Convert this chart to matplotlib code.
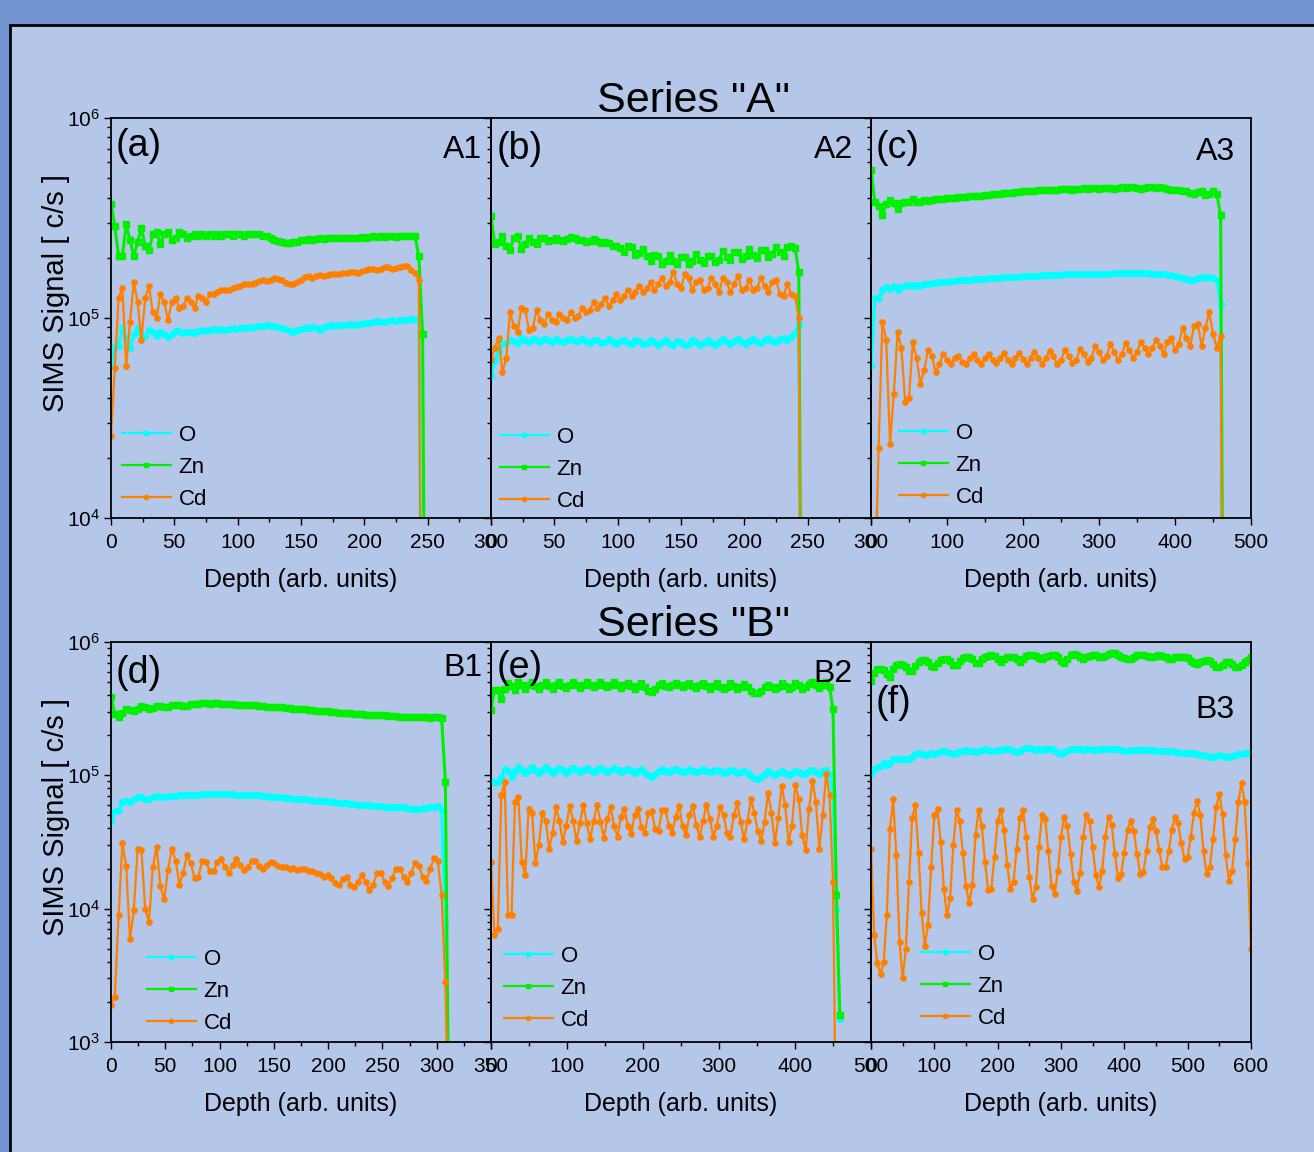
import numpy as np
import matplotlib
matplotlib.use("Agg")
import matplotlib.pyplot as plt
from matplotlib.patches import Rectangle
from matplotlib.ticker import LogLocator, MultipleLocator, NullFormatter


plt.rcParams["font.family"] = ["Liberation Sans", "DejaVu Sans"]
plt.rcParams["mathtext.fontset"] = "custom"
plt.rcParams["mathtext.rm"] = "Liberation Sans"
plt.rcParams["mathtext.it"] = "Liberation Sans:italic"

# SIMS depth profiles, values are log10 of the signal in c/s
# each series is sampled on a regular depth grid (step in arb. units)

A1_STEP = 3.0
A1_O = [
	4.76, 4.86, 4.86, 4.95, 4.90, 4.85, 4.92, 4.95, 4.89, 4.91,
	4.94, 4.93, 4.91, 4.93, 4.92, 4.905, 4.92, 4.935, 4.935, 4.925,
	4.93, 4.93, 4.925, 4.935, 4.94, 4.935, 4.94, 4.945, 4.94, 4.945,
	4.94, 4.945, 4.95, 4.945, 4.95, 4.95, 4.955, 4.95, 4.955, 4.96,
	4.96, 4.965, 4.96, 4.96, 4.955, 4.95, 4.945, 4.935, 4.93, 4.94,
	4.945, 4.95, 4.95, 4.955, 4.95, 4.94, 4.955, 4.96, 4.965, 4.96,
	4.965, 4.965, 4.965, 4.97, 4.965, 4.97, 4.97, 4.975, 4.975, 4.98,
	4.985, 4.98, 4.98, 4.985, 4.99, 4.985, 4.99, 4.99, 4.99, 4.995,
	4.995, 4.99, 2.0, 2.0,
]
A1_ZN = [
	5.57, 5.46, 5.31, 5.31, 5.47, 5.39, 5.31, 5.38, 5.45, 5.36,
	5.34, 5.42, 5.43, 5.37, 5.42, 5.43, 5.39, 5.40, 5.43, 5.42,
	5.40, 5.41, 5.42, 5.41, 5.42, 5.41, 5.42, 5.41, 5.42, 5.41,
	5.42, 5.42, 5.41, 5.42, 5.42, 5.41, 5.42, 5.42, 5.42, 5.42,
	5.41, 5.41, 5.40, 5.39, 5.385, 5.38, 5.375, 5.375, 5.38, 5.38,
	5.39, 5.39, 5.395, 5.39, 5.395, 5.40, 5.395, 5.40, 5.40, 5.40,
	5.40, 5.40, 5.40, 5.40, 5.40, 5.40, 5.405, 5.40, 5.405, 5.41,
	5.405, 5.41, 5.405, 5.41, 5.41, 5.405, 5.41, 5.41, 5.41, 5.41,
	5.41, 5.31, 4.92, 2.0,
]
A1_CD = [
	4.41, 4.75, 5.10, 5.15, 4.76, 4.98, 5.18, 5.08, 4.89, 5.10,
	5.16, 5.03, 5.00, 5.12, 5.08, 4.99, 5.08, 5.10, 5.05, 5.06,
	5.10, 5.08, 5.05, 5.11, 5.10, 5.08, 5.12, 5.12, 5.13, 5.14,
	5.14, 5.14, 5.15, 5.155, 5.16, 5.17, 5.17, 5.17, 5.175, 5.185,
	5.19, 5.185, 5.19, 5.20, 5.195, 5.19, 5.175, 5.17, 5.17, 5.18,
	5.19, 5.205, 5.21, 5.20, 5.21, 5.215, 5.21, 5.215, 5.22, 5.22,
	5.22, 5.225, 5.225, 5.23, 5.23, 5.225, 5.235, 5.24, 5.245, 5.245,
	5.24, 5.245, 5.255, 5.255, 5.245, 5.25, 5.255, 5.26, 5.26, 5.24,
	5.225, 5.19, 2.0, 2.0,
]

A2_STEP = 3.0
A2_O = [
	4.71, 4.79, 4.83, 4.87, 4.875, 4.89, 4.885, 4.875, 4.90, 4.89,
	4.88, 4.895, 4.89, 4.88, 4.895, 4.89, 4.88, 4.895, 4.885, 4.88,
	4.89, 4.895, 4.885, 4.885, 4.895, 4.885, 4.875, 4.89, 4.89, 4.875,
	4.88, 4.895, 4.88, 4.87, 4.885, 4.89, 4.875, 4.87, 4.89, 4.885,
	4.87, 4.875, 4.89, 4.88, 4.865, 4.88, 4.89, 4.87, 4.865, 4.885,
	4.88, 4.865, 4.87, 4.89, 4.88, 4.865, 4.875, 4.89, 4.875, 4.865,
	4.88, 4.895, 4.88, 4.87, 4.885, 4.895, 4.88, 4.87, 4.885, 4.895,
	4.88, 4.875, 4.89, 4.90, 4.885, 4.88, 4.895, 4.90, 4.89, 4.905,
	4.925, 4.97, 2.0,
]
A2_ZN = [
	5.51, 5.37, 5.38, 5.41, 5.36, 5.34, 5.40, 5.41, 5.345, 5.37,
	5.40, 5.38, 5.37, 5.40, 5.40, 5.385, 5.39, 5.40, 5.39, 5.385,
	5.395, 5.405, 5.40, 5.39, 5.39, 5.38, 5.385, 5.395, 5.385, 5.375,
	5.38, 5.375, 5.36, 5.36, 5.35, 5.328, 5.36, 5.356, 5.313, 5.325,
	5.345, 5.31, 5.283, 5.316, 5.311, 5.268, 5.285, 5.315, 5.285, 5.268,
	5.306, 5.306, 5.268, 5.285, 5.32, 5.29, 5.273, 5.31, 5.31, 5.278,
	5.29, 5.335, 5.307, 5.29, 5.33, 5.332, 5.295, 5.31, 5.345, 5.315,
	5.30, 5.34, 5.342, 5.306, 5.32, 5.355, 5.328, 5.31, 5.355, 5.36,
	5.35, 5.23, 2.0,
]
A2_CD = [
	4.79, 4.85, 4.90, 4.73, 4.80, 5.03, 4.96, 4.93, 5.05, 5.04,
	4.94, 4.95, 5.04, 4.99, 4.97, 5.02, 4.99, 4.98, 5.02, 5.00,
	4.99, 5.03, 5.00, 5.01, 5.05, 5.03, 5.04, 5.08, 5.05, 5.07,
	5.10, 5.06, 5.09, 5.12, 5.09, 5.11, 5.14, 5.11, 5.13, 5.16,
	5.13, 5.15, 5.18, 5.14, 5.17, 5.20, 5.16, 5.18, 5.23, 5.17,
	5.15, 5.22, 5.20, 5.14, 5.18, 5.19, 5.14, 5.15, 5.20, 5.17,
	5.13, 5.20, 5.18, 5.13, 5.17, 5.21, 5.14, 5.15, 5.19, 5.14,
	5.15, 5.20, 5.16, 5.13, 5.18, 5.19, 5.12, 5.11, 5.17, 5.12,
	5.11, 5.00, 2.0,
]

A3_STEP = 5.0
A3_O = [
	4.76, 5.10, 5.10, 5.14, 5.155, 5.145, 5.16, 5.14, 5.155, 5.16,
	5.165, 5.16, 5.165, 5.16, 5.17, 5.17, 5.175, 5.175, 5.18, 5.18,
	5.18, 5.185, 5.185, 5.19, 5.19, 5.19, 5.19, 5.195, 5.195, 5.195,
	5.195, 5.20, 5.20, 5.20, 5.20, 5.205, 5.205, 5.205, 5.205, 5.205,
	5.21, 5.21, 5.21, 5.21, 5.21, 5.215, 5.215, 5.215, 5.215, 5.215,
	5.215, 5.22, 5.22, 5.22, 5.22, 5.22, 5.22, 5.22, 5.22, 5.22,
	5.22, 5.22, 5.22, 5.22, 5.225, 5.225, 5.225, 5.225, 5.225, 5.225,
	5.225, 5.225, 5.225, 5.225, 5.22, 5.22, 5.22, 5.22, 5.215, 5.215,
	5.21, 5.205, 5.20, 5.195, 5.19, 5.19, 5.20, 5.205, 5.20, 5.205,
	5.20, 5.19, 5.07, 2.0,
]
A3_ZN = [
	5.74, 5.58, 5.56, 5.515, 5.57, 5.59, 5.575, 5.545, 5.575, 5.58,
	5.58, 5.595, 5.58, 5.58, 5.59, 5.585, 5.59, 5.595, 5.595, 5.595,
	5.60, 5.60, 5.60, 5.605, 5.605, 5.605, 5.61, 5.61, 5.61, 5.61,
	5.615, 5.615, 5.62, 5.62, 5.62, 5.625, 5.625, 5.625, 5.63, 5.63,
	5.635, 5.635, 5.635, 5.635, 5.64, 5.64, 5.64, 5.64, 5.64, 5.64,
	5.645, 5.645, 5.645, 5.64, 5.645, 5.645, 5.65, 5.645, 5.65, 5.65,
	5.645, 5.65, 5.65, 5.65, 5.645, 5.65, 5.655, 5.65, 5.655, 5.655,
	5.65, 5.645, 5.65, 5.655, 5.655, 5.65, 5.655, 5.65, 5.645, 5.64,
	5.64, 5.64, 5.635, 5.635, 5.625, 5.62, 5.63, 5.635, 5.615, 5.62,
	5.635, 5.62, 5.515, 2.0,
]
A3_CD = [
	3.0, 3.6, 4.35, 4.98, 4.89, 4.37, 4.62, 4.93, 4.85, 4.58,
	4.60, 4.88, 4.80, 4.67, 4.74, 4.84, 4.81, 4.73, 4.77, 4.82,
	4.79, 4.77, 4.80, 4.81, 4.78, 4.77, 4.80, 4.82, 4.79, 4.77,
	4.80, 4.82, 4.79, 4.775, 4.80, 4.825, 4.79, 4.77, 4.80, 4.825,
	4.795, 4.77, 4.80, 4.83, 4.80, 4.77, 4.80, 4.835, 4.81, 4.77,
	4.79, 4.84, 4.81, 4.775, 4.79, 4.845, 4.82, 4.78, 4.80, 4.86,
	4.83, 4.79, 4.81, 4.87, 4.83, 4.79, 4.82, 4.875, 4.84, 4.80,
	4.83, 4.88, 4.85, 4.82, 4.85, 4.89, 4.86, 4.82, 4.88, 4.90,
	4.84, 4.87, 4.95, 4.90, 4.86, 4.96, 4.97, 4.86, 4.95, 5.03,
	4.92, 4.85, 4.91, 2.0,
]

B1_STEP = 3.5
B1_O = [
	4.66, 4.73, 4.74, 4.80, 4.81, 4.80, 4.82, 4.835, 4.84, 4.825,
	4.82, 4.84, 4.845, 4.835, 4.84, 4.845, 4.845, 4.845, 4.85, 4.85,
	4.85, 4.855, 4.855, 4.855, 4.86, 4.86, 4.86, 4.86, 4.86, 4.86,
	4.86, 4.86, 4.86, 4.855, 4.855, 4.855, 4.85, 4.85, 4.85, 4.85,
	4.845, 4.845, 4.84, 4.84, 4.84, 4.835, 4.83, 4.83, 4.825, 4.825,
	4.82, 4.82, 4.815, 4.815, 4.81, 4.81, 4.805, 4.805, 4.80, 4.80,
	4.795, 4.795, 4.79, 4.785, 4.785, 4.78, 4.78, 4.775, 4.775, 4.77,
	4.77, 4.77, 4.765, 4.765, 4.765, 4.76, 4.76, 4.76, 4.755, 4.75,
	4.745, 4.75, 4.755, 4.755, 4.76, 4.765, 4.77, 4.74, 3.9, 2.0,
]
B1_ZN = [
	5.59, 5.46, 5.44, 5.47, 5.50, 5.49, 5.48, 5.50, 5.52, 5.51,
	5.495, 5.505, 5.52, 5.52, 5.51, 5.51, 5.525, 5.53, 5.53, 5.52,
	5.52, 5.535, 5.535, 5.535, 5.54, 5.54, 5.535, 5.54, 5.54, 5.535,
	5.535, 5.535, 5.535, 5.53, 5.53, 5.53, 5.525, 5.525, 5.525, 5.52,
	5.52, 5.515, 5.515, 5.515, 5.51, 5.51, 5.505, 5.505, 5.50, 5.50,
	5.495, 5.495, 5.49, 5.49, 5.485, 5.485, 5.48, 5.48, 5.475, 5.475,
	5.47, 5.47, 5.465, 5.465, 5.46, 5.46, 5.46, 5.455, 5.455, 5.455,
	5.45, 5.45, 5.45, 5.445, 5.445, 5.445, 5.44, 5.44, 5.44, 5.435,
	5.44, 5.435, 5.435, 5.435, 5.43, 5.435, 5.44, 5.43, 4.95, 2.0,
]
B1_CD = [
	3.28, 3.34, 3.95, 4.49, 4.32, 3.77, 3.99, 4.45, 4.44, 4.00,
	3.90, 4.31, 4.465, 4.17, 4.07, 4.29, 4.45, 4.36, 4.18, 4.27,
	4.40, 4.34, 4.23, 4.24, 4.36, 4.35, 4.28, 4.28, 4.35, 4.37,
	4.31, 4.265, 4.33, 4.37, 4.33, 4.29, 4.31, 4.36, 4.36, 4.32,
	4.30, 4.33, 4.35, 4.34, 4.32, 4.31, 4.315, 4.30, 4.305, 4.29,
	4.30, 4.295, 4.28, 4.285, 4.27, 4.26, 4.24, 4.25, 4.23, 4.19,
	4.18, 4.22, 4.24, 4.18, 4.16, 4.20, 4.25, 4.20, 4.14, 4.18,
	4.27, 4.27, 4.20, 4.17, 4.23, 4.30, 4.30, 4.24, 4.20, 4.27,
	4.34, 4.32, 4.24, 4.21, 4.30, 4.38, 4.36, 4.10, 3.45, 2.0,
]

B2_STEP = 4.5
B2_O = [
	4.96, 4.95, 4.95, 4.99, 5.05, 5.03, 4.99, 5.03, 5.06, 5.04,
	5.02, 5.04, 5.06, 5.04, 5.02, 5.04, 5.06, 5.04, 5.02, 5.04,
	5.055, 5.04, 5.02, 5.04, 5.055, 5.04, 5.025, 5.04, 5.055, 5.04,
	5.025, 5.04, 5.055, 5.04, 5.025, 5.04, 5.055, 5.04, 5.025, 5.04,
	5.05, 5.035, 5.02, 5.03, 5.045, 5.02, 5.00, 4.99, 5.01, 5.035,
	5.05, 5.035, 5.025, 5.04, 5.05, 5.035, 5.025, 5.035, 5.045, 5.035,
	5.025, 5.035, 5.045, 5.035, 5.025, 5.03, 5.04, 5.03, 5.02, 5.025,
	5.04, 5.03, 5.015, 5.025, 5.035, 5.015, 4.995, 4.98, 4.975, 4.99,
	5.01, 5.03, 5.02, 5.005, 5.02, 5.035, 5.02, 5.00, 5.015, 5.035,
	5.025, 5.01, 5.02, 5.035, 5.04, 5.025, 5.01, 5.03, 5.04, 5.00,
	4.85, 4.00, 3.17,
]
B2_ZN = [
	5.49, 5.64, 5.64, 5.57, 5.65, 5.69, 5.67, 5.64, 5.70, 5.68,
	5.65, 5.68, 5.70, 5.67, 5.65, 5.68, 5.70, 5.67, 5.65, 5.68,
	5.70, 5.67, 5.655, 5.68, 5.70, 5.675, 5.655, 5.68, 5.70, 5.675,
	5.66, 5.68, 5.70, 5.675, 5.66, 5.68, 5.70, 5.675, 5.655, 5.675,
	5.695, 5.67, 5.65, 5.67, 5.69, 5.66, 5.635, 5.625, 5.65, 5.675,
	5.69, 5.67, 5.66, 5.68, 5.695, 5.675, 5.66, 5.68, 5.695, 5.67,
	5.655, 5.675, 5.695, 5.67, 5.65, 5.67, 5.69, 5.665, 5.645, 5.665,
	5.69, 5.67, 5.65, 5.665, 5.685, 5.66, 5.635, 5.62, 5.615, 5.635,
	5.66, 5.68, 5.665, 5.645, 5.665, 5.69, 5.67, 5.645, 5.66, 5.69,
	5.675, 5.65, 5.66, 5.685, 5.70, 5.675, 5.655, 5.68, 5.70, 5.66,
	5.50, 4.10, 3.20,
]
B2_CD = [
	4.35, 3.80, 3.85, 4.85, 4.95, 3.95, 3.95, 4.80, 4.84, 4.35,
	4.25, 4.75, 4.72, 4.34, 4.48, 4.72, 4.66, 4.45, 4.57, 4.76,
	4.66, 4.50, 4.62, 4.77, 4.66, 4.51, 4.64, 4.78, 4.64, 4.52,
	4.66, 4.78, 4.65, 4.53, 4.675, 4.76, 4.62, 4.54, 4.69, 4.75,
	4.62, 4.56, 4.70, 4.75, 4.61, 4.57, 4.72, 4.73, 4.60, 4.58,
	4.74, 4.74, 4.62, 4.57, 4.69, 4.77, 4.62, 4.55, 4.70, 4.77,
	4.63, 4.54, 4.66, 4.78, 4.67, 4.54, 4.62, 4.76, 4.70, 4.57,
	4.54, 4.70, 4.79, 4.65, 4.52, 4.66, 4.82, 4.72, 4.58, 4.51,
	4.65, 4.87, 4.72, 4.49, 4.68, 4.92, 4.78, 4.50, 4.62, 4.93,
	4.82, 4.55, 4.44, 4.75, 4.96, 4.80, 4.45, 4.70, 5.01, 4.85,
	4.20, 2.0,
]

B3_STEP = 5.0
B3_O = [
	5.01, 5.05, 5.06, 5.07, 5.09, 5.08, 5.09, 5.12, 5.125, 5.12,
	5.125, 5.12, 5.125, 5.14, 5.16, 5.165, 5.16, 5.155, 5.16, 5.165,
	5.16, 5.17, 5.18, 5.18, 5.175, 5.165, 5.16, 5.17, 5.18, 5.185,
	5.19, 5.185, 5.18, 5.175, 5.18, 5.19, 5.195, 5.19, 5.185, 5.185,
	5.19, 5.19, 5.195, 5.20, 5.195, 5.185, 5.175, 5.185, 5.20, 5.205,
	5.205, 5.195, 5.19, 5.195, 5.19, 5.195, 5.20, 5.195, 5.18, 5.165,
	5.16, 5.175, 5.185, 5.195, 5.20, 5.20, 5.195, 5.19, 5.195, 5.195,
	5.19, 5.19, 5.195, 5.20, 5.20, 5.20, 5.20, 5.20, 5.195, 5.19,
	5.185, 5.185, 5.19, 5.19, 5.19, 5.19, 5.19, 5.19, 5.19, 5.19,
	5.185, 5.185, 5.185, 5.18, 5.18, 5.18, 5.175, 5.175, 5.17, 5.17,
	5.17, 5.165, 5.165, 5.16, 5.155, 5.15, 5.145, 5.14, 5.14, 5.145,
	5.15, 5.145, 5.135, 5.135, 5.145, 5.155, 5.16, 5.16, 5.165, 5.17,
	5.175,
]
B3_ZN = [
	5.71, 5.77, 5.795, 5.80, 5.79, 5.76, 5.74, 5.80, 5.83, 5.835,
	5.83, 5.81, 5.785, 5.78, 5.82, 5.85, 5.865, 5.865, 5.85, 5.82,
	5.81, 5.84, 5.865, 5.875, 5.875, 5.86, 5.825, 5.825, 5.86, 5.88,
	5.885, 5.885, 5.87, 5.845, 5.845, 5.87, 5.89, 5.895, 5.90, 5.895,
	5.87, 5.85, 5.87, 5.885, 5.89, 5.89, 5.875, 5.85, 5.87, 5.895,
	5.905, 5.905, 5.895, 5.88, 5.875, 5.885, 5.895, 5.90, 5.90, 5.885,
	5.855, 5.84, 5.87, 5.90, 5.91, 5.905, 5.89, 5.875, 5.885, 5.895,
	5.90, 5.90, 5.89, 5.885, 5.895, 5.91, 5.915, 5.915, 5.905, 5.89,
	5.88, 5.875, 5.875, 5.885, 5.90, 5.905, 5.90, 5.895, 5.89, 5.89,
	5.895, 5.90, 5.895, 5.885, 5.875, 5.875, 5.885, 5.89, 5.89, 5.885,
	5.88, 5.86, 5.84, 5.835, 5.85, 5.86, 5.865, 5.855, 5.835, 5.81,
	5.81, 5.83, 5.85, 5.85, 5.835, 5.815, 5.81, 5.83, 5.85, 5.865,
	5.885,
]
B3_CD = [
	4.45, 3.80, 3.59, 3.51, 3.60, 3.95, 4.60, 4.82, 4.40, 3.75,
	3.48, 3.70, 4.20, 4.68, 4.78, 4.42, 3.97, 3.72, 3.88, 4.31,
	4.70, 4.75, 4.50, 4.15, 3.95, 4.08, 4.48, 4.74, 4.66, 4.42,
	4.17, 4.04, 4.18, 4.55, 4.74, 4.62, 4.35, 4.14, 4.15, 4.39,
	4.66, 4.74, 4.59, 4.33, 4.15, 4.20, 4.445, 4.68, 4.74, 4.54,
	4.24, 4.07, 4.16, 4.46, 4.70, 4.675, 4.43, 4.17, 4.11, 4.28,
	4.54, 4.69, 4.62, 4.41, 4.20, 4.13, 4.27, 4.54, 4.70, 4.655,
	4.46, 4.25, 4.16, 4.28, 4.54, 4.69, 4.63, 4.41, 4.23, 4.26,
	4.42, 4.59, 4.66, 4.58, 4.41, 4.26, 4.275, 4.43, 4.61, 4.67,
	4.58, 4.44, 4.31, 4.31, 4.43, 4.59, 4.69, 4.64, 4.49, 4.37,
	4.39, 4.54, 4.72, 4.81, 4.70, 4.43, 4.26, 4.31, 4.52, 4.76,
	4.86, 4.71, 4.40, 4.21, 4.28, 4.52, 4.80, 4.94, 4.80, 4.34,
	3.70,
]

SPECIES = ["O", "Zn", "Cd"]
ROW_TITLES = ['Series "A"', 'Series "B"']
X_LABEL = "Depth (arb. units)"
Y_LABEL = "SIMS Signal [ c/s ]"

PANELS = [
	{"row": 0, "col": 0, "letter": "(a)", "sample": "A1", "step": A1_STEP,
	 "series": [A1_O, A1_ZN, A1_CD], "xmax": 300, "major": 50, "minor": 25},
	{"row": 0, "col": 1, "letter": "(b)", "sample": "A2", "step": A2_STEP,
	 "series": [A2_O, A2_ZN, A2_CD], "xmax": 300, "major": 50, "minor": 25},
	{"row": 0, "col": 2, "letter": "(c)", "sample": "A3", "step": A3_STEP,
	 "series": [A3_O, A3_ZN, A3_CD], "xmax": 500, "major": 100, "minor": 50},
	{"row": 1, "col": 0, "letter": "(d)", "sample": "B1", "step": B1_STEP,
	 "series": [B1_O, B1_ZN, B1_CD], "xmax": 350, "major": 50, "minor": 25},
	{"row": 1, "col": 1, "letter": "(e)", "sample": "B2", "step": B2_STEP,
	 "series": [B2_O, B2_ZN, B2_CD], "xmax": 500, "major": 100, "minor": 50},
	{"row": 1, "col": 2, "letter": "(f)", "sample": "B3", "step": B3_STEP,
	 "series": [B3_O, B3_ZN, B3_CD], "xmax": 600, "major": 100, "minor": 50},
]

# layout, in pixels of the 1314x1152 picture
FIG_W, FIG_H = 1314, 1152
COL_LEFT = [111, 491, 871]
ROW_TOP = [118, 642]
AX_W, AX_H = 380, 400
ROW_YLIM = [(1e4, 1e6), (1e3, 1e6)]
TITLE_POS = [(693, 112), (693, 636)]
YLABEL_POS = [(56, 293), (56, 817)]
LETTER_POS = [(116, 128), (497, 131), (876, 130), (116, 655), (497, 650), (876, 685)]
SAMPLE_POS = [(482, 135), (853, 135), (1235, 137), (483, 653), (853, 659), (1235, 695)]
LEGEND_POS = [(122, 435), (500, 437), (899, 433), (147, 959), (504, 956), (921, 954)]

OUTER_BG = "#7396d2"
INNER_BG = "#b4c7e8"
COLORS = {"O": "#00ffff", "Zn": "#00f000", "Cd": "#ff8000"}
MARKERS = {"O": "o", "Zn": "s", "Cd": "o"}
LINE_WIDTHS = {"O": 2.2, "Zn": 2.2, "Cd": 1.6}
MARKER_SIZES = {"O": 4.2, "Zn": 4.0, "Cd": 3.8}


def fx(x: float) -> float:
	return x / FIG_W


def fy(y: float) -> float:
	return 1.0 - y / FIG_H


def draw_panel(fig, index: int, panel: dict) -> None:
	row, col = panel["row"], panel["col"]
	left = COL_LEFT[col]
	top = ROW_TOP[row]
	ax = fig.add_axes([fx(left), fy(top + AX_H), AX_W / FIG_W, AX_H / FIG_H])
	ax.set_facecolor("none")

	for name, log_values in zip(SPECIES, panel["series"]):
		values = 10.0 ** np.asarray(log_values)
		depth = np.arange(len(values)) * panel["step"]
		ax.plot(
			depth, values, color=COLORS[name], marker=MARKERS[name],
			markersize=MARKER_SIZES[name], linewidth=LINE_WIDTHS[name], label=name,
		)

	ax.set_yscale("log")
	ax.set_ylim(*ROW_YLIM[row])
	ax.set_xlim(0, panel["xmax"])
	ax.xaxis.set_major_locator(MultipleLocator(panel["major"]))
	ax.xaxis.set_minor_locator(MultipleLocator(panel["minor"]))
	ax.yaxis.set_major_locator(LogLocator(base=10))
	ax.yaxis.set_minor_locator(LogLocator(base=10, subs=np.arange(2, 10)))
	ax.yaxis.set_minor_formatter(NullFormatter())

	for spine in ax.spines.values():
		spine.set_linewidth(1.3)
	ax.tick_params(which="both", direction="out", top=False, right=False, width=1.0)
	ax.tick_params(which="major", length=5, labelsize=15)
	ax.tick_params(which="minor", length=3)
	ax.tick_params(axis="x", pad=6)
	ax.tick_params(axis="y", pad=3)
	if col > 0:
		ax.tick_params(axis="y", labelleft=False)

	ax.set_xlabel(X_LABEL, fontsize=18)
	ax.xaxis.set_label_coords(0.5, -0.125)

	lx, ly = LETTER_POS[index]
	fig.text(fx(lx), fy(ly), panel["letter"], fontsize=27, ha="left", va="top")
	sx, sy = SAMPLE_POS[index]
	fig.text(fx(sx), fy(sy), panel["sample"], fontsize=23, ha="right", va="top")

	gx, gy = LEGEND_POS[index]
	legend = ax.legend(
		loc="upper left", bbox_to_anchor=(fx(gx), fy(gy - 10)),
		bbox_transform=fig.transFigure, frameon=False, fontsize=16,
		handlelength=2.2, handletextpad=0.35, labelspacing=0.5,
		borderpad=0, borderaxespad=0, numpoints=1, markerscale=0.8,
	)
	for handle in legend.get_lines():
		handle.set_linewidth(1.6)


def main() -> None:
	fig = plt.figure(figsize=(FIG_W / 100, FIG_H / 100), dpi=100)
	fig.patch.set_facecolor(OUTER_BG)
	fig.patches.append(
		Rectangle(
			(fx(10), -0.1), 1.2, fy(25) + 0.1, transform=fig.transFigure,
			facecolor=INNER_BG, edgecolor="black", linewidth=2.0, zorder=-10,
		)
	)

	for index, panel in enumerate(PANELS):
		draw_panel(fig, index, panel)

	for title, (tx, ty) in zip(ROW_TITLES, TITLE_POS):
		fig.text(fx(tx), fy(ty), title, fontsize=31, ha="center", va="baseline")
	for lx, ly in YLABEL_POS:
		fig.text(fx(lx), fy(ly), Y_LABEL, fontsize=21, rotation=90, ha="center", va="center")

	fig.savefig("out.png", dpi=100, facecolor=fig.get_facecolor())
	plt.close(fig)


if __name__ == "__main__":
	main()
